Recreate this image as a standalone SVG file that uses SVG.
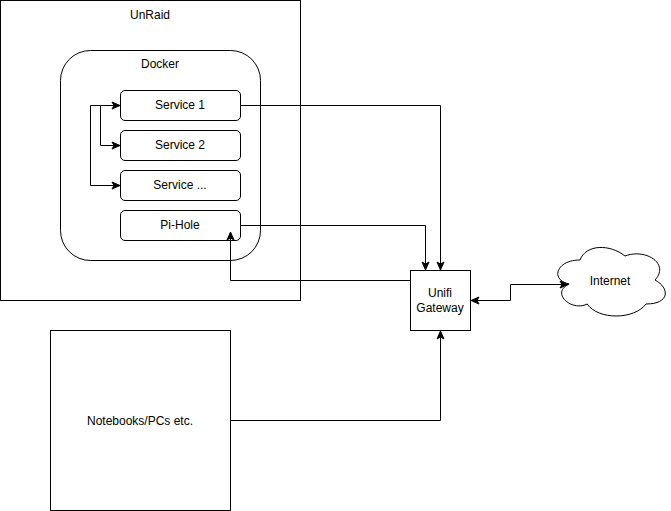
<svg xmlns="http://www.w3.org/2000/svg" width="671" height="511" viewBox="0 0 671 511">
<style>
text{font-family:"Liberation Sans",Arial,sans-serif;font-size:12px;fill:#000;text-anchor:middle;dominant-baseline:central}
.box{fill:#fff;stroke:#000;stroke-width:1}
.edge{fill:none;stroke:#000;stroke-width:1}
</style>
<defs>
<marker id="arr" viewBox="0 0 10 10" refX="9" refY="5" markerWidth="10" markerHeight="10" markerUnits="userSpaceOnUse" orient="auto-start-reverse">
<path d="M1,1.5 L9,5 L1,8.5 L3,5 Z" fill="#000" stroke="#000" stroke-width="1"/>
</marker>
</defs>
<rect width="671" height="511" fill="#fff"/>
<g id="unraid"><rect class="box" x="0.5" y="0.5" width="300" height="300"/><text x="150" y="15">UnRaid</text></g>
<g id="docker"><rect class="box" x="60.5" y="50.5" width="200" height="210" rx="30" ry="30"/><text x="160" y="64">Docker</text></g>
<g id="service1"><rect class="box" x="120.5" y="90.5" width="120" height="30" rx="4.5"/><text x="180" y="105">Service 1</text></g>
<g id="service2"><rect class="box" x="120.5" y="130.5" width="120" height="30" rx="4.5"/><text x="180" y="145">Service 2</text></g>
<g id="service3"><rect class="box" x="120.5" y="170.5" width="120" height="30" rx="4.5"/><text x="180" y="185">Service ...</text></g>
<g id="pihole"><rect class="box" x="120.5" y="210.5" width="120" height="30" rx="4.5"/><text x="180" y="225">Pi-Hole</text></g>
<g id="gateway"><rect class="box" x="410.5" y="270.5" width="60" height="60"/><text x="440" y="293">Unifi</text><text x="440" y="308">Gateway</text></g>
<g id="internet"><path class="box" d="M580 260 C556 260 550 280 569.2 284 C550 292.8 571.6 312 587.2 304 C598 320 634 320 646 304 C670 304 670 288 655 280 C670 264 646 248 625 256 C610 244 586 244 580 260 Z"/><text x="610" y="281">Internet</text></g>
<g id="notebooks"><rect class="box" x="50.5" y="330.5" width="180" height="180"/><text x="140" y="421">Notebooks/PCs etc.</text></g>
<g id="connectors">
<path class="edge" d="M100.5 105.5 L120 105.5" marker-end="url(#arr)"/>
<path class="edge" d="M90.5 105.5 L100.5 105.5 L100.5 145.5 L120 145.5" marker-end="url(#arr)"/>
<path class="edge" d="M90.5 105.5 L90.5 185.5 L120 185.5" marker-end="url(#arr)"/>
<path class="edge" d="M240.5 105.5 L440.5 105.5 L440.5 270" marker-end="url(#arr)"/>
<path class="edge" d="M240.5 225.5 L425.5 225.5 L425.5 270" marker-end="url(#arr)"/>
<path class="edge" d="M410.5 280.5 L230.5 280.5 L230.5 232" marker-end="url(#arr)"/>
<path class="edge" d="M471 300.5 L510.5 300.5 L510.5 284.5 L568 284.5" marker-start="url(#arr)" marker-end="url(#arr)"/>
<path class="edge" d="M230.5 420.5 L440.5 420.5 L440.5 331" marker-end="url(#arr)"/>
</g>
</svg>
